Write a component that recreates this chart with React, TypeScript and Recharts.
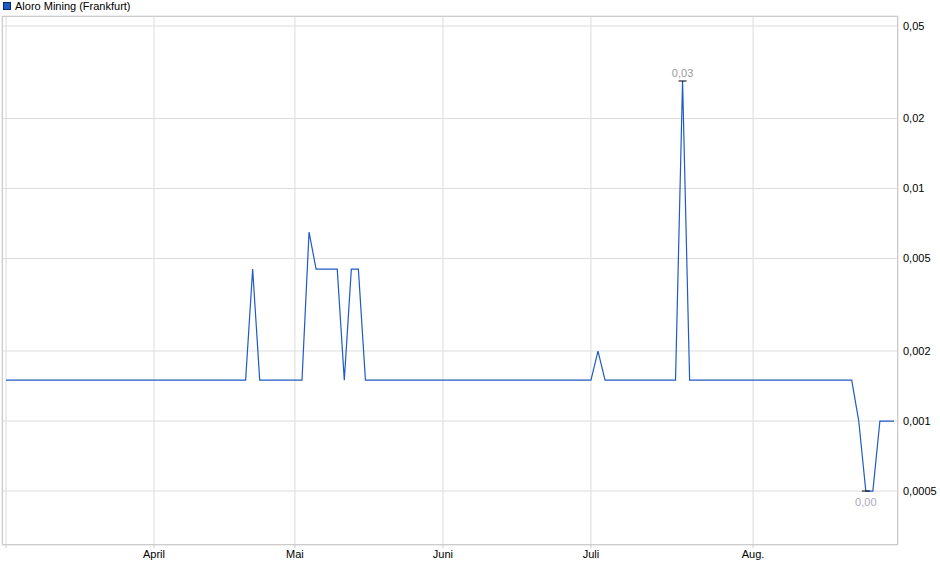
import { LineChart, Line, XAxis, YAxis, CartesianGrid } from 'recharts';

// one value per trading day (Frankfurt), early March to end of August
const prices = [
  0.0015, 0.0015, 0.0015, 0.0015, 0.0015, 0.0015, 0.0015, 0.0015, 0.0015, 0.0015,
  0.0015, 0.0015, 0.0015, 0.0015, 0.0015, 0.0015, 0.0015, 0.0015, 0.0015, 0.0015,
  0.0015, 0.0015, 0.0015, 0.0015, 0.0015, 0.0015, 0.0015, 0.0015, 0.0015, 0.0015,
  0.0015, 0.0015, 0.0015, 0.0015, 0.0015, 0.0045, 0.0015, 0.0015, 0.0015, 0.0015,
  0.0015, 0.0015, 0.0015, 0.0065, 0.0045, 0.0045, 0.0045, 0.0045, 0.0015, 0.0045,
  0.0045, 0.0015, 0.0015, 0.0015, 0.0015, 0.0015, 0.0015, 0.0015, 0.0015, 0.0015,
  0.0015, 0.0015, 0.0015, 0.0015, 0.0015, 0.0015, 0.0015, 0.0015, 0.0015, 0.0015,
  0.0015, 0.0015, 0.0015, 0.0015, 0.0015, 0.0015, 0.0015, 0.0015, 0.0015, 0.0015,
  0.0015, 0.0015, 0.0015, 0.0015, 0.002, 0.0015, 0.0015, 0.0015, 0.0015, 0.0015,
  0.0015, 0.0015, 0.0015, 0.0015, 0.0015, 0.0015, 0.029, 0.0015, 0.0015, 0.0015,
  0.0015, 0.0015, 0.0015, 0.0015, 0.0015, 0.0015, 0.0015, 0.0015, 0.0015, 0.0015,
  0.0015, 0.0015, 0.0015, 0.0015, 0.0015, 0.0015, 0.0015, 0.0015, 0.0015, 0.0015,
  0.0015, 0.001, 0.0005, 0.0005, 0.001, 0.001, 0.001,
];

// first trading day of each month (index into prices)
const monthTicks = [0, 21, 41, 62, 83, 106];
const monthLabels = ['', 'April', 'Mai', 'Juni', 'Juli', 'Aug.'];

const priceTicks = [0.0005, 0.001, 0.002, 0.005, 0.01, 0.02, 0.05];

const seriesName = 'Aloro Mining (Frankfurt)';

const data = prices.map((p, i) => ({ i, price: p }));

const maxIndex = prices.indexOf(Math.max(...prices));
const minIndex = prices.indexOf(Math.min(...prices));

const FONT = '"Liberation Sans", Arial, sans-serif';
const BLUE = '#1f5bc4';

const fmtTick = (v: number) => String(v).replace('.', ',');

const renderMarker = (props: any) => {
  const { cx, cy, index } = props;
  if (index === maxIndex) {
    return (
      <g key={`m-${index}`}>
        <line x1={cx - 4} x2={cx + 4} y1={cy} y2={cy} stroke="#000" strokeWidth={1} />
        <text x={cx} y={cy - 4} textAnchor="middle" fontSize={11} fontFamily={FONT} fill="#999">
          {prices[index].toFixed(2).replace('.', ',')}
        </text>
      </g>
    );
  }
  if (index === minIndex) {
    return (
      <g key={`m-${index}`}>
        <line x1={cx - 4} x2={cx + 4} y1={cy} y2={cy} stroke="#000" strokeWidth={1} />
        <text x={cx} y={cy + 15} textAnchor="middle" fontSize={11} fontFamily={FONT} fill="#aab">
          {prices[index].toFixed(2).replace('.', ',')}
        </text>
      </g>
    );
  }
  return <g key={`m-${index}`} />;
};

export default function App() {
  return (
    <div style={{ position: 'absolute', left: 0, top: 0, width: 940, height: 579, background: '#fff', fontFamily: FONT }}>
      <div style={{ position: 'absolute', left: 3, top: 2, width: 6, height: 6, background: BLUE, border: '1px solid #0b2a66' }} />
      <div style={{ position: 'absolute', left: 15, top: -1, fontSize: 11, color: '#000', lineHeight: '14px' }}>
        {seriesName}
      </div>
      <LineChart width={940} height={579} data={data} margin={{ top: 16, right: 0, left: 2, bottom: 0 }}>
        <CartesianGrid stroke="#ddd" />
        <XAxis
          dataKey="i"
          type="number"
          domain={[0, prices.length - 1]}
          ticks={monthTicks}
          tickFormatter={(v: number) => monthLabels[monthTicks.indexOf(v)] ?? ''}
          padding={{ left: 4, right: 4 }}
          height={34}
          axisLine={false}
          tickLine={{ stroke: '#ccc' }}
          tickSize={3}
          tickMargin={2}
          tick={{ fontSize: 11, fill: '#000', fontFamily: FONT }}
          interval={0}
        />
        <YAxis
          orientation="right"
          scale="log"
          domain={[0.000293, 0.0552]}
          allowDataOverflow
          ticks={priceTicks}
          tickFormatter={fmtTick}
          width={42}
          axisLine={false}
          tickLine={false}
          tickSize={5}
          tickMargin={0}
          tick={{ fontSize: 11, fill: '#000', fontFamily: FONT }}
          interval={0}
        />
        <Line
          type="linear"
          dataKey="price"
          stroke={BLUE}
          strokeWidth={1.2}
          dot={renderMarker}
          activeDot={false}
          isAnimationActive={false}
        />
      </LineChart>
      <div
        style={{
          position: 'absolute',
          left: 2,
          top: 16,
          width: 896,
          height: 529,
          boxSizing: 'border-box',
          border: '1px solid #ccc',
          pointerEvents: 'none',
        }}
      />
    </div>
  );
}
